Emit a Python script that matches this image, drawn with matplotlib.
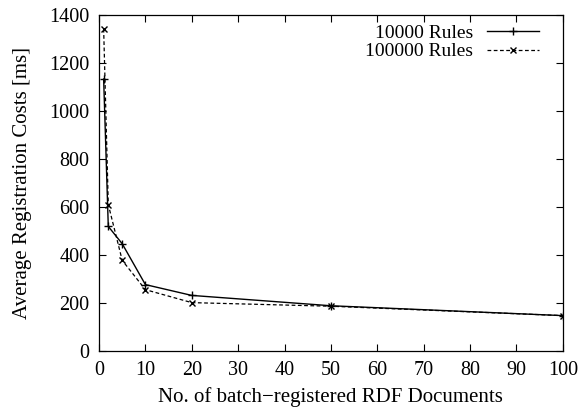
import matplotlib.pyplot as plt

# number of documents registered in one batch
batch_sizes = [1, 2, 5, 10, 20, 50, 100]
# average registration costs in ms
costs_10000 = [1133, 520, 448, 278, 233, 190, 149]
costs_100000 = [1342, 611, 379, 257, 203, 188, 149]

plt.rcParams['font.family'] = ['Liberation Serif', 'DejaVu Serif']
plt.rcParams['font.size'] = 14.5

fig = plt.figure(figsize=(5.79, 4.12), dpi=100)
ax = fig.add_axes([0.171, 0.147, 0.801, 0.817])

ax.plot(batch_sizes, costs_10000, color='black', linestyle='-', linewidth=1.0,
        marker='+', markersize=6, markeredgewidth=1.0, label='10000 Rules')
ax.plot(batch_sizes, costs_100000, color='black', linestyle=(0, (3, 2)), linewidth=0.9,
        marker='x', markersize=5, markeredgewidth=1.0, label='100000 Rules')

ax.set_xlim(0, 100)
ax.set_ylim(0, 1400)
ax.set_xticks(range(0, 101, 10))
ax.set_yticks(range(0, 1401, 200))
ax.tick_params(direction='in', top=True, right=True, length=5, width=0.8)
ax.tick_params(axis='x', pad=7)
ax.tick_params(axis='y', pad=7)
for s in ax.spines.values():
    s.set_linewidth(0.9)

ax.set_xlabel('No. of batch\u2212registered RDF Documents', fontsize=15, labelpad=5)
ax.set_ylabel('Average Registration Costs [ms]', fontsize=15, labelpad=12)

ax.legend(loc='upper right', bbox_to_anchor=(0.966, 0.995), frameon=False,
          markerfirst=False, fontsize=14, handlelength=2.7, borderaxespad=0,
          labelspacing=0.05, handletextpad=0.7)

fig.savefig('out.png')
